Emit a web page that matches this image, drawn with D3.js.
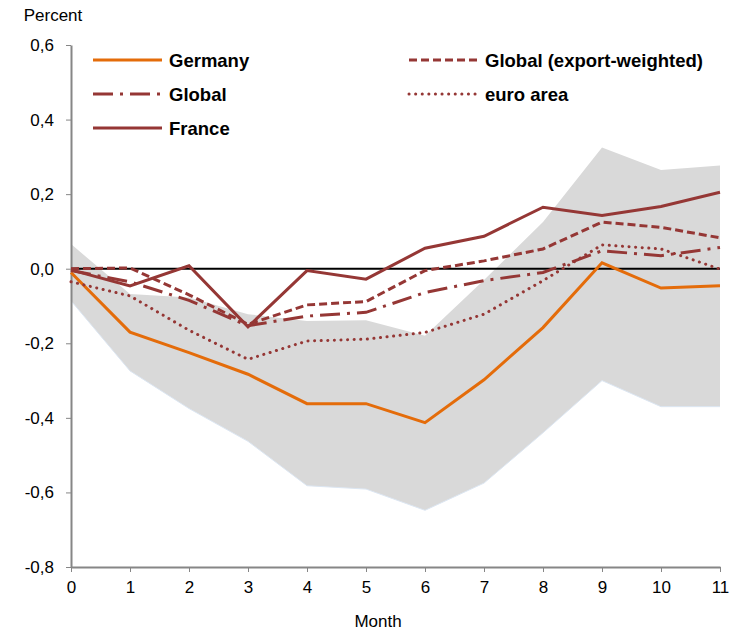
<!DOCTYPE html>
<html>
<head>
<meta charset="utf-8">
<script src="https://cdn.jsdelivr.net/npm/d3@7"></script>
<style>
  body { margin: 0; background: #fff; }
  text { font-family: Arial, "Liberation Sans", sans-serif; }
</style>
</head>
<body>
<svg id="chart" width="733" height="632"></svg>
<script>
// Months on the x axis
const months = [0, 1, 2, 3, 4, 5, 6, 7, 8, 9, 10, 11];
const yTicks = [0.6, 0.4, 0.2, 0, -0.2, -0.4, -0.6, -0.8];

// Series values (percent)
const germany   = [-0.01, -0.17, -0.225, -0.283, -0.362, -0.362, -0.413, -0.298, -0.158, 0.016, -0.052, -0.046];
const globalExp = [0.0, 0.002, -0.07, -0.149, -0.097, -0.088, -0.005, 0.021, 0.053, 0.125, 0.111, 0.083];
const globalAll = [-0.005, -0.035, -0.085, -0.153, -0.127, -0.117, -0.064, -0.032, -0.01, 0.048, 0.035, 0.057];
const euroArea  = [-0.035, -0.073, -0.165, -0.243, -0.194, -0.189, -0.171, -0.122, -0.032, 0.064, 0.053, -0.001];
const france    = [-0.003, -0.046, 0.008, -0.156, -0.005, -0.028, 0.055, 0.087, 0.165, 0.143, 0.167, 0.205];

// Confidence band for Germany
const bandUpper = [0.066, -0.068, -0.077, -0.122, -0.14, -0.138, -0.18, -0.03, 0.125, 0.325, 0.265, 0.277];
const bandLower = [-0.086, -0.274, -0.375, -0.463, -0.582, -0.591, -0.648, -0.575, -0.44, -0.30, -0.37, -0.37];

const orange = '#e46c0a', red = '#953735';

const series = [
  { name: 'Germany', values: germany, color: orange, dash: null, cap: 'butt' },
  { name: 'Global (export-weighted)', values: globalExp, color: red, dash: '8,4', cap: 'butt' },
  { name: 'Global', values: globalAll, color: red, dash: '20,7,3,7', cap: 'butt' },
  { name: 'euro area', values: euroArea, color: red, dash: '0.1,6.5', cap: 'round' },
  { name: 'France', values: france, color: red, dash: null, cap: 'butt' }
];

const svg = d3.select('#chart');
const x = d3.scaleLinear().domain([0, 11]).range([71, 720]);
const y = d3.scaleLinear().domain([-0.8, 0.6]).range([567, 45]);
const fmt = d => d3.format('.1f')(d).replace('.', ',').replace('\u2212', '-');

// Band
const area = d3.area()
  .x((d, i) => x(months[i]))
  .y0((d, i) => y(bandLower[i]))
  .y1(d => y(d));
svg.append('path')
  .attr('d', area(bandUpper))
  .attr('fill', '#d9d9d9');
svg.append('path')
  .attr('d', d3.line().x((d, i) => x(months[i])).y(d => y(d))(bandLower))
  .attr('fill', 'none').attr('stroke', '#dce6f2').attr('stroke-width', 1);

// Axes
const yAxis = d3.axisLeft(y).tickValues(yTicks).tickSize(5).tickSizeOuter(0).tickFormat(fmt);
const yg = svg.append('g').attr('transform', 'translate(71,0)').call(yAxis);
const xAxis = d3.axisBottom(x).tickValues(months).tickSize(5).tickSizeOuter(0);
const xg = svg.append('g').attr('transform', 'translate(0,567)').call(xAxis);
[yg, xg].forEach(g => {
  g.select('.domain').attr('stroke', '#868686').attr('stroke-width', 2);
  g.selectAll('.tick line').attr('stroke', '#868686');
  g.selectAll('.tick text').attr('fill', '#000').style('font-size', '17px')
    .style('font-family', 'Arial, "Liberation Sans", sans-serif');
});
yg.selectAll('.tick text').attr('x', -17);
xg.selectAll('.tick text').attr('y', 14);

// Zero line
svg.append('line')
  .attr('x1', x(0)).attr('x2', x(11))
  .attr('y1', y(0)).attr('y2', y(0))
  .attr('stroke', '#000').attr('stroke-width', 2);

// Lines
const line = d3.line().x((d, i) => x(months[i])).y(d => y(d));
svg.append('g').selectAll('path').data(series).enter().append('path')
  .attr('d', d => line(d.values))
  .attr('fill', 'none')
  .attr('stroke', d => d.color)
  .attr('stroke-width', 3)
  .attr('stroke-linecap', d => d.cap)
  .attr('stroke-dasharray', d => d.dash);

// Legend
const legendPos = {
  'Germany': [93, 60], 'Global': [93, 94], 'France': [93, 128],
  'Global (export-weighted)': [409, 60], 'euro area': [409, 94]
};
const lg = svg.append('g');
series.forEach(s => {
  const p = legendPos[s.name];
  lg.append('line')
    .attr('x1', p[0]).attr('x2', p[0] + 69)
    .attr('y1', p[1]).attr('y2', p[1])
    .attr('stroke', s.color).attr('stroke-width', 3)
    .attr('stroke-linecap', s.cap)
    .attr('stroke-dasharray', s.dash);
  lg.append('text')
    .attr('x', p[0] + 76).attr('y', p[1] + 6.5)
    .style('font-size', '18.5px').style('font-weight', 'bold')
    .text(s.name);
});

// Axis titles
svg.append('text').attr('x', 53).attr('y', 21).attr('text-anchor', 'middle')
  .style('font-size', '17px').text('Percent');
svg.append('text').attr('x', 378).attr('y', 627).attr('text-anchor', 'middle')
  .style('font-size', '17px').text('Month');
</script>
</body>
</html>
